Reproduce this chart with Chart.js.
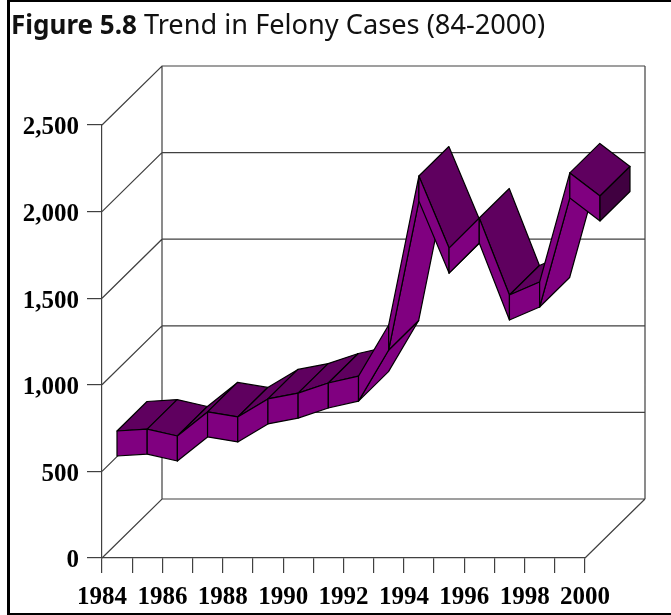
<!DOCTYPE html>
<html>
<head>
<meta charset="utf-8">
<title>Trend in Felony Cases</title>
<script src="https://cdn.jsdelivr.net/npm/chart.js@4/dist/chart.umd.min.js"></script>
<style>
html, body { margin: 0; padding: 0; background: #fff; overflow: hidden; }
#wrap { position: relative; width: 671px; height: 615px; }
#frame { position: absolute; left: 7px; top: 0; width: 664px; height: 615px; box-sizing: border-box;
  border-left: 3px solid #000; border-top: 2px solid #000; border-bottom: 2px solid #000; pointer-events: none; }
#title { position: absolute; left: 11px; top: 6px; font-family: "Noto Sans", sans-serif; font-size: 27.2px;
  line-height: 36px; color: #111; white-space: nowrap; }
#title b { font-weight: 700; font-size: 26px; }
canvas { position: absolute; left: 0; top: 0; }
</style>
</head>
<body>
<div id="wrap">
  <canvas id="felonyChart" width="671" height="615"></canvas>
  <div id="frame"></div>
  <div id="title"><b>Figure 5.8</b> Trend in Felony Cases (84-2000)</div>
</div>
<script>
// valores
const years = [1984, 1985, 1986, 1987, 1988, 1989, 1990, 1991, 1992, 1993, 1994, 1995, 1996, 1997, 1998, 1999, 2000];
const felonyCases = [576, 587, 547, 686, 657, 761, 795, 853, 893, 1188, 2048, 1632, 1806, 1361, 1436, 2066, 1933];
const yMax = 2500;
const yStep = 500;

const gridColor = '#404040';
const frontColor = '#800080';
const topColor = '#5f005f';
const capColor = '#400040';

// profundidad del cuadro 3D, en pixeles
const wallX = 60, wallY = -59;
const ribbonHalfHeight = 12.5;

function poly(ctx, pts, fill) {
    ctx.beginPath();
    ctx.moveTo(pts[0][0], pts[0][1]);
    for (let i = 1; i < pts.length; i++) ctx.lineTo(pts[i][0], pts[i][1]);
    ctx.closePath();
    ctx.fillStyle = fill;
    ctx.fill();
    ctx.strokeStyle = '#000';
    ctx.lineWidth = 1.2;
    ctx.stroke();
}

const walls3d = {
    id: 'walls3d',
    beforeDatasetsDraw(chart) {
        const ctx = chart.ctx, x = chart.scales.x, y = chart.scales.y;
        const left = x.getPixelForValue(years[0]), right = x.getPixelForValue(years[years.length - 1]);
        const bottom = y.getPixelForValue(0), top = y.getPixelForValue(yMax);
        ctx.save();
        ctx.strokeStyle = gridColor;
        ctx.lineWidth = 1.2;
        ctx.beginPath();
        y.ticks.forEach(function(t) {
            const py = y.getPixelForValue(t.value);
            ctx.moveTo(left, py);
            ctx.lineTo(left + wallX, py + wallY);
            ctx.lineTo(right + wallX, py + wallY);
        });
        ctx.moveTo(left + wallX, bottom + wallY);
        ctx.lineTo(left + wallX, top + wallY);
        ctx.moveTo(right + wallX, bottom + wallY);
        ctx.lineTo(right + wallX, top + wallY);
        ctx.moveTo(right, bottom);
        ctx.lineTo(right + wallX, bottom + wallY);
        ctx.stroke();
        ctx.restore();
    }
};

const ribbon3d = {
    id: 'ribbon3d',
    afterDatasetsDraw(chart) {
        const ctx = chart.ctx, x = chart.scales.x, y = chart.scales.y;
        // la cinta ocupa de 1/4 a 3/4 de la profundidad
        const fx = wallX / 4, fy = wallY / 4, dx = wallX / 2, dy = wallY / 2;
        const pts = chart.data.datasets[0].data.map(function(d) {
            const px = x.getPixelForValue(d.x) + fx;
            const py = y.getPixelForValue(d.y) + fy;
            return { x: px, top: py - ribbonHalfHeight, bot: py + ribbonHalfHeight };
        });
        ctx.save();
        ctx.lineJoin = 'round';
        for (let i = 0; i < pts.length - 1; i++) {
            const a = pts[i], b = pts[i + 1];
            // si sube mas que la profundidad se ve la cara de abajo
            const rise = (a.top - b.top) / (b.x - a.x);
            if (rise > -dy / dx) {
                poly(ctx, [[a.x, a.bot], [b.x, b.bot], [b.x + dx, b.bot + dy], [a.x + dx, a.bot + dy]], frontColor);
            } else {
                poly(ctx, [[a.x, a.top], [b.x, b.top], [b.x + dx, b.top + dy], [a.x + dx, a.top + dy]], topColor);
            }
            poly(ctx, [[a.x, a.top], [b.x, b.top], [b.x, b.bot], [a.x, a.bot]], frontColor);
        }
        const end = pts[pts.length - 1];
        poly(ctx, [[end.x, end.top], [end.x + dx, end.top + dy], [end.x + dx, end.bot + dy], [end.x, end.bot]], capColor);
        ctx.restore();
    }
};

new Chart(document.getElementById('felonyChart'), {
    type: 'scatter',
    data: {
        datasets: [{
            label: 'Felony Cases',
            data: years.map(function(yr, i) { return { x: yr, y: felonyCases[i] }; }),
            showLine: false,
            pointRadius: 0,
            backgroundColor: frontColor,
            borderColor: frontColor
        }]
    },
    options: {
        responsive: false,
        animation: false,
        events: [],
        layout: { padding: { top: 125, right: 86, left: 0, bottom: 0 } },
        plugins: { legend: { display: false }, title: { display: false }, tooltip: { enabled: false } },
        scales: {
            x: {
                type: 'linear',
                min: years[0],
                max: years[years.length - 1],
                afterFit: function(s) { s.height = 57; },
                grid: { drawOnChartArea: false, color: gridColor, lineWidth: 1.2, tickLength: 15 },
                border: { color: gridColor, width: 1.2 },
                ticks: {
                    stepSize: 1,
                    autoSkip: false,
                    maxRotation: 0,
                    padding: 10,
                    color: '#000',
                    font: { family: '"Liberation Serif", serif', weight: 'bold', size: 25 },
                    callback: function(v) { return v % 2 === 0 ? String(v) : ''; }
                }
            },
            y: {
                min: 0,
                max: yMax,
                afterFit: function(s) { s.width = 102; },
                grid: { drawOnChartArea: false, color: gridColor, lineWidth: 1.2, tickLength: 15 },
                border: { color: gridColor, width: 1.2 },
                ticks: {
                    stepSize: yStep,
                    padding: 8,
                    labelOffset: 3,
                    color: '#000',
                    font: { family: '"Liberation Serif", serif', weight: 'bold', size: 25 },
                    callback: function(v) { return v.toLocaleString('en-US'); }
                }
            }
        }
    },
    plugins: [walls3d, ribbon3d]
});
</script>
</body>
</html>
